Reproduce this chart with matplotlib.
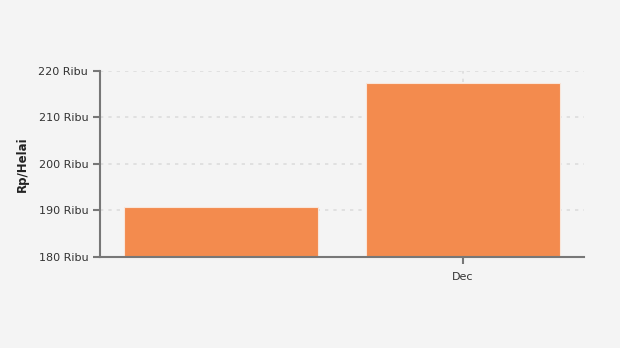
import matplotlib
matplotlib.use("Agg")
import matplotlib.pyplot as plt

# data
categories = ["", "Dec"]
values = [190.75, 217.4]
ytick_vals = [180, 190, 200, 210, 220]
ytick_labels = ["%d Ribu" % v for v in ytick_vals]

fig = plt.figure(figsize=(6.2, 3.48), dpi=100)
fig.patch.set_facecolor("#f4f4f4")
ax = fig.add_axes([100/620, 1-257/348, 484/620, (257-71)/348])
ax.set_facecolor("#f4f4f4")

x = [i + 0.5 for i in range(len(categories))]
ax.bar(x, values, width=0.8, color="#f38b4e", edgecolor="#f9e6da", linewidth=0.8, zorder=3)

ax.set_xlim(0, 2)
ax.set_ylim(180, 220)
ax.set_yticks(ytick_vals)
ax.set_yticklabels(ytick_labels, fontsize=8, color="#333333")
ax.set_xticks([x[1]])
ax.set_xticklabels([categories[1]], fontsize=8, color="#333333")

ax.grid(True, axis="y", color="#dddddd", linestyle=(0, (2, 3)), linewidth=1.2, zorder=0)
ax.grid(True, axis="x", color="#dddddd", linestyle=(0, (2, 3)), linewidth=1.2, zorder=0)

for s in ["top", "right"]:
    ax.spines[s].set_visible(False)
for s in ["left", "bottom"]:
    ax.spines[s].set_color("#777777")
    ax.spines[s].set_linewidth(1.5)
    ax.spines[s].set_zorder(4)
ax.tick_params(axis="both", color="#777777", width=1.5, length=5)
ax.tick_params(axis="x", pad=6)

ax.set_ylabel("Rp/Helai", fontsize=8.5, fontweight="bold", color="#222222", labelpad=7)

fig.savefig("out.png", dpi=100, facecolor=fig.get_facecolor())
